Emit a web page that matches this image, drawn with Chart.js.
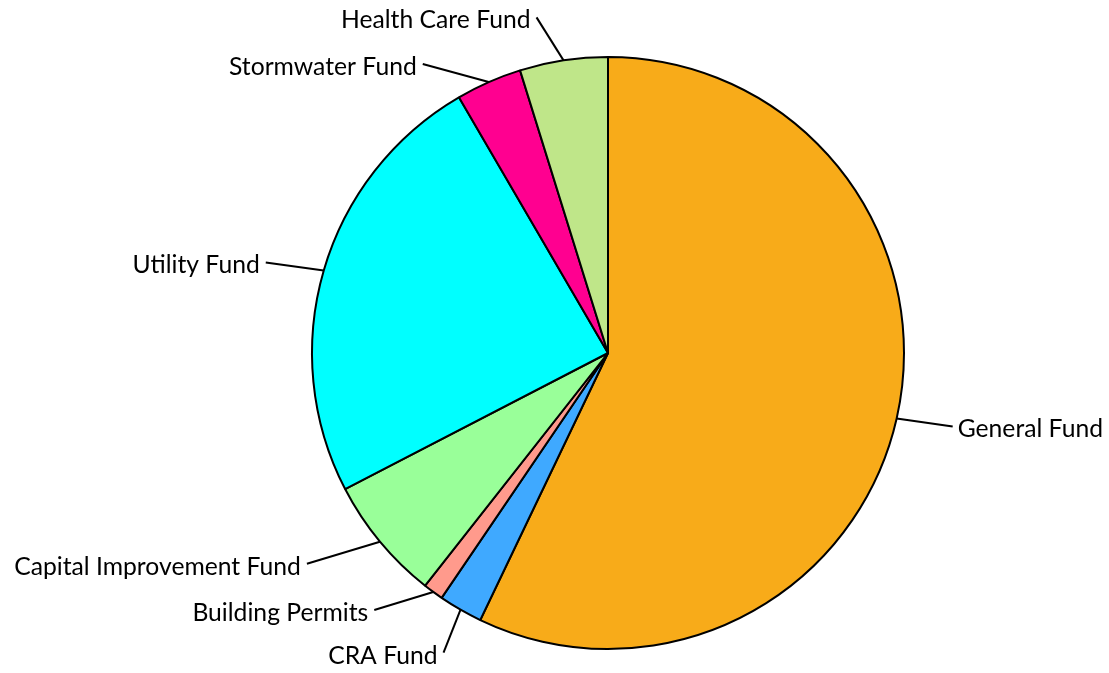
<!DOCTYPE html>
<html>
<head>
<meta charset="utf-8">
<script src="https://cdn.jsdelivr.net/npm/chart.js@4/dist/chart.umd.min.js"></script>
<style>
  html, body { margin: 0; padding: 0; background: #fff; }
  #wrap { width: 1109px; height: 673px; position: relative; }
</style>
</head>
<body>
<div id="wrap"><canvas id="fundChart" width="1109" height="673"></canvas></div>
<script>
    // Fund shares, in percent, clockwise from 12 o'clock
    const FUNDS = ['General Fund', 'CRA Fund', 'Building Permits', 'Capital Improvement Fund', 'Utility Fund', 'Stormwater Fund', 'Health Care Fund'];
    const SHARES = [57.1, 2.4, 1.1, 6.8, 24.2, 3.6, 4.8];
    const COLORS = ['#f8ab19', '#3fa9ff', '#ff9a8c', '#99ff99', '#00ffff', '#ff0090', '#bfe689'];

    // leader line length from the slice's arc midpoint to its label
    const LEADERS = [[56, 8], [-17, 43], [-59, 18], [-73, 22], [-58, -8], [-66, -18], [-27, -43]];

    const FONT = '24.7px Lato, "Open Sans", sans-serif';

    // ─── Outside labels with leader lines ─────────────────────────
    const leaderLabels = {
        id: 'leaderLabels',
        afterDatasetsDraw(chart) {
            const ctx = chart.ctx;
            const arcs = chart.getDatasetMeta(0).data;
            ctx.save();
            ctx.font = FONT;
            ctx.fillStyle = '#000';
            ctx.strokeStyle = '#000';
            ctx.lineWidth = 2;
            ctx.textBaseline = 'middle';
            arcs.forEach((arc, i) => {
                const mid = (arc.startAngle + arc.endAngle) / 2;
                const x0 = arc.x + Math.cos(mid) * arc.outerRadius;
                const y0 = arc.y + Math.sin(mid) * arc.outerRadius;
                const [dx, dy] = LEADERS[i];
                const x1 = x0 + dx, y1 = y0 + dy;
                ctx.beginPath();
                ctx.moveTo(x0, y0);
                ctx.lineTo(x1, y1);
                ctx.stroke();
                const right = dx > 0;
                ctx.textAlign = right ? 'left' : 'right';
                ctx.fillText(FUNDS[i], x1 + (right ? 5 : -6), y1 + 3);
            });
            ctx.restore();
        },
    };

    new Chart(document.getElementById('fundChart'), {
        type: 'pie',
        data: {
            labels: FUNDS,
            datasets: [{
                data: SHARES,
                backgroundColor: COLORS,
                borderColor: '#000',
                borderWidth: 2,
            }],
        },
        options: {
            responsive: false,
            animation: false,
            radius: 296,
            layout: { padding: { left: 107, right: 0, top: 33, bottom: 0 } },
            plugins: { legend: { display: false }, tooltip: { enabled: false } },
        },
        plugins: [leaderLabels],
    });
</script>
</body>
</html>
